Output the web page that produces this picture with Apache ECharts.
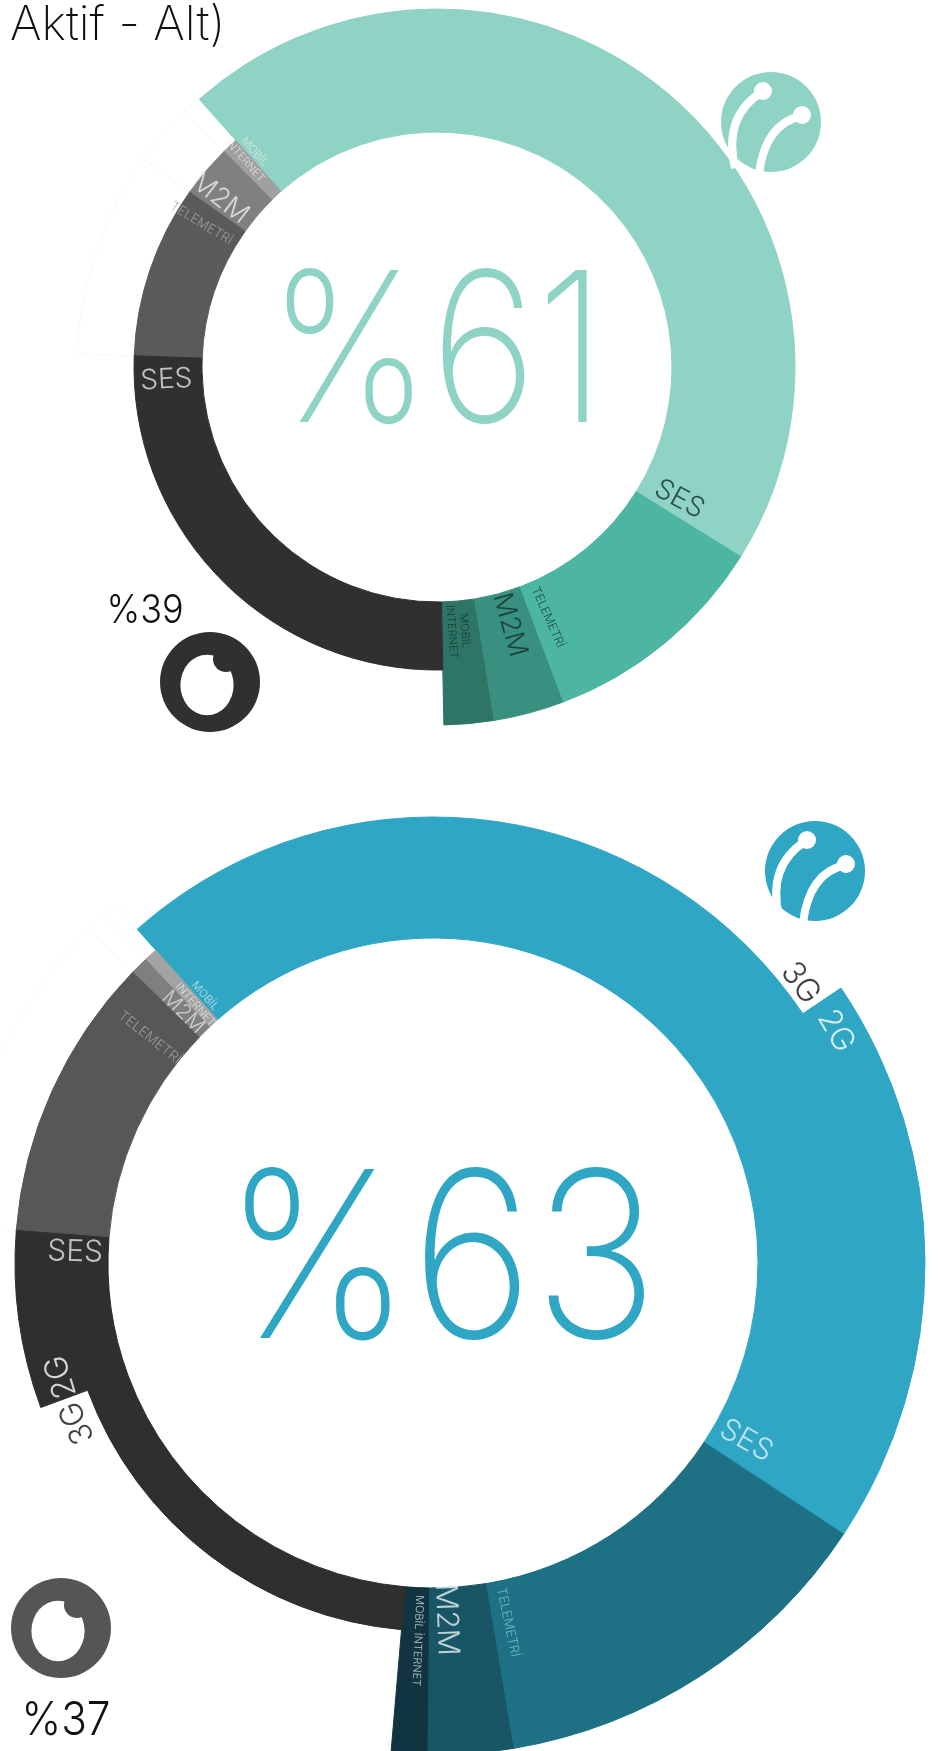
<!DOCTYPE html>
<html lang="tr">
<head>
<meta charset="UTF-8">
<title>Aktif - Alt</title>
<script src="https://cdn.jsdelivr.net/npm/echarts@6/dist/echarts.min.js"></script>
<style>
    html, body { margin: 0; padding: 0; background: #fff; }
    #chart { width: 944px; height: 1751px; }
</style>
</head>
<body>
<div id="chart"></div>

<script>
    // üst halka: pay (%), saat 6'dan saat yönünün tersine
    const topNames  = ['MOBİL İNTERNET', 'M2M', 'TELEMETRİ', 'SES', 'MOBİL İNTERNET', 'M2M', 'TELEMETRİ', 'SES'];
    const topOwners = ['Turkcell', 'Turkcell', 'Turkcell', 'Turkcell', 'Vodafone', 'Vodafone', 'Vodafone', 'Vodafone'];
    const topValues = [2.25, 3.2, 10.4, 45.4, 0.85, 2.8, 9.2, 25.9];
    const topTotals = ['%61', '%39'];

    // alt halka: SES 2G / 3G olarak ayrık
    const bottomNames  = ['MOBİL İNTERNET', 'M2M', 'TELEMETRİ', 'SES 2G', 'SES 3G', 'MOBİL İNTERNET', 'M2M', 'TELEMETRİ', 'SES 2G', 'SES 3G'];
    const bottomOwners = ['Turkcell', 'Turkcell', 'Turkcell', 'Turkcell', 'Turkcell', 'Vodafone', 'Vodafone', 'Vodafone', 'Vodafone', 'Vodafone'];
    const bottomValues = [1.2, 2.8, 13.1, 18.7, 27.1, 0.53, 0.69, 11.0, 6.86, 18.02];
    const bottomTotals = ['%63', '%37'];

    const FONT = 'Inter';

    const TOP = { center: [437, 367], start: 271.1, inner: 235 };
    const BOTTOM = { center: [433, 1263], start: 265.1, inner: 325 };

    // halkalar: her biri ayrı dış yarıçap
    const topRings = [
        { outer: 360, colors: { 4: '#fff', 5: '#fff', 6: '#fff' }, border: '#f4f4f4', borderWidth: 0.6, inner: 303, z: 1 },
        { outer: 358, colors: { 0: '#2e7565', 1: '#3a9080', 2: '#4db6a2', 3: '#8fd3c5' } },
        { outer: 303, colors: { 4: '#a0a0a0', 5: '#808080', 6: '#5a5a5a', 7: '#303030' } }
    ];
    const bottomRings = [
        { outer: 480, colors: { 5: '#fff', 6: '#fff', 7: '#fff' }, border: '#f5f5f5', borderWidth: 0.6, inner: 418, z: 1 },
        { outer: 492, colors: { 0: '#103540', 1: '#185565', 2: '#1e7085', 3: '#2ea6c4' } },
        { outer: 446, colors: { 4: '#2ea6c4' } },
        { outer: 418, colors: { 5: '#a3a3a3', 6: '#7f7f7f', 7: '#575757', 8: '#2f2f2f' } },
        { outer: 368, colors: { 9: '#2f2f2f' } }
    ];

    // etiketler: dilim, dilim içindeki konum (0-1), yarıçap
    const TDARK = '#12302a';
    const topLabels = [
        { slice: 0, t: 0.43, r: 265, size: 11, color: TDARK, mode: 'out', text: 'MOBİL\nINTERNET' },
        { slice: 1, t: 0.57, r: 268, size: 27, color: TDARK, mode: 'out' },
        { slice: 2, t: 0.085, r: 274, size: 12, color: TDARK, mode: 'out' },
        { slice: 3, t: 0.02, r: 276, size: 28, color: TDARK, mode: 'out' },
        { slice: 4, t: 0.0, r: 282, size: 11, color: '#e8e8e8', mode: 'in', text: 'MOBİL\nINTERNET' },
        { slice: 5, t: 0.74, r: 275, size: 27, color: '#eeeeee', mode: 'in' },
        { slice: 6, t: 0.117, r: 276, size: 13, color: '#a9a9a9', mode: 'in' },
        { slice: 7, t: 0.052, r: 271, size: 28, color: '#e6e6e6', mode: 'in' }
    ];
    const bottomLabels = [
        { slice: 0, t: 0.6, r: 378, size: 11, color: '#dfe9ec', mode: 'out', text: 'MOBİL İNTERNET' },
        { slice: 1, t: 0.27, r: 357, size: 30, color: '#e8f1f3', mode: 'out' },
        { slice: 2, t: 0.049, r: 367, size: 13, color: '#7fc3d6', mode: 'out' },
        { slice: 3, t: 0.056, r: 360, size: 30, color: '#def1f6', mode: 'out', text: 'SES' },
        { slice: 3, t: 0.94, r: 465, size: 32, color: '#ffffff', mode: 'tan', text: '2G' },
        { slice: 4, t: 0.034, r: 462, size: 32, color: '#111111', mode: 'tan', text: '3G' },
        { slice: 5, t: 0.0, r: 351, size: 11, color: '#eeeeee', mode: 'in', text: 'MOBİL\nINTERNET' },
        { slice: 6, t: 0.58, r: 354, size: 21, color: '#e0e0e0', mode: 'in' },
        { slice: 7, t: 0.14, r: 362, size: 14, color: '#a6a6a6', mode: 'in' },
        { slice: 8, t: 0.11, r: 358, size: 30, color: '#e6e6e6', mode: 'in', text: 'SES' },
        { slice: 8, t: 0.87, r: 389, size: 32, color: '#ffffff', mode: 'tan', text: '2G' },
        { slice: 9, t: 0.061, r: 390, size: 32, color: '#111111', mode: 'tan', text: '3G' }
    ];

    function sliceStarts(values) {
        let acc = 0;
        return values.map(v => { const s = acc; acc += v; return s; });
    }

    function ringSeries(names, values, layout, ring) {
        return {
            type: 'pie',
            silent: true,
            animation: false,
            z: ring.z || 2,
            center: layout.center,
            radius: [ring.inner || layout.inner, ring.outer],
            startAngle: layout.start,
            clockwise: false,
            avoidLabelOverlap: false,
            label: { show: false },
            labelLine: { show: false },
            emphasis: { disabled: true },
            data: values.map((v, i) => {
                const c = ring.colors[i];
                // kendi renginde ince kenar: dilimler arası açık çizgiyi kapatır
                return {
                    name: names[i] + ' ' + i,
                    value: v,
                    itemStyle: c
                        ? { color: c, borderColor: ring.border || c, borderWidth: ring.borderWidth || 1 }
                        : { color: 'rgba(0,0,0,0)', borderWidth: 0 }
                };
            })
        };
    }

    function labelSeries(names, values, layout, polarIndex, labels) {
        const total = values.reduce((a, b) => a + b, 0);
        const starts = sliceStarts(values);
        return {
            type: 'scatter',
            coordinateSystem: 'polar',
            polarIndex: polarIndex,
            silent: true,
            animation: false,
            z: 10,
            symbolSize: 1,
            itemStyle: { color: 'rgba(0,0,0,0)' },
            label: {
                show: true, position: 'inside', align: 'center', verticalAlign: 'middle',
                fontFamily: FONT, fontWeight: 300
            },
            data: labels.map(l => {
                const a = starts[l.slice] + l.t * values[l.slice];
                let theta = (((layout.start + 360 * a / total) % 360) + 360) % 360;
                let rot;
                if (l.mode === 'in') rot = theta - 180;
                else if (l.mode === 'tan') rot = theta - 90;
                else rot = theta > 180 ? theta - 360 : theta;
                return {
                    value: [l.r, a],
                    label: {
                        formatter: l.text || names[l.slice],
                        rotate: rot,
                        color: l.color,
                        fontSize: l.size,
                        lineHeight: Math.round(l.size * 1.15)
                    }
                };
            })
        };
    }

    function polarFor(layout, values) {
        const total = values.reduce((a, b) => a + b, 0);
        return {
            polar: { center: layout.center, radius: 600 },
            angle: { type: 'value', min: 0, max: total, startAngle: layout.start, clockwise: false, show: false },
            radius: { type: 'value', min: 0, max: 600, show: false }
        };
    }

    function bigText(text, x, y, size, color, weight, sx) {
        return {
            type: 'text', x: x, y: y, scaleX: sx || 1, silent: true, z: 20,
            style: {
                text: text, fill: color,
                font: (weight || 200) + ' ' + size + 'px ' + FONT,
                align: 'center', verticalAlign: 'middle',
                textAlign: 'center', textVerticalAlign: 'middle'
            }
        };
    }

    // logolar (yaklaşık çizim)
    function turkcellLogo(x, y, color) {
        const w = { stroke: '#fff', lineWidth: 8, fill: null };
        return {
            type: 'group', x: x, y: y, silent: true,
            children: [
                { type: 'circle', z: 20, shape: { cx: 0, cy: 0, r: 50 }, style: { fill: color } },
                { type: 'bezierCurve', z: 21, shape: { x1: -36, y1: 46, cpx1: -48, cpy1: -6, x2: -9, y2: -30 }, style: w },
                { type: 'bezierCurve', z: 21, shape: { x1: -12, y1: 52, cpx1: -6, cpy1: 2, x2: 30, y2: -6 }, style: w },
                { type: 'circle', z: 21, shape: { cx: -8, cy: -31, r: 9 }, style: { fill: '#fff' } },
                { type: 'circle', z: 21, shape: { cx: 31, cy: -7, r: 9 }, style: { fill: '#fff' } }
            ]
        };
    }

    function vodafoneLogo(x, y, color) {
        return {
            type: 'group', x: x, y: y, silent: true,
            children: [
                { type: 'circle', z: 20, shape: { cx: 0, cy: 0, r: 50 }, style: { fill: color } },
                { type: 'circle', z: 21, x: -3, y: 3, scaleX: 0.95, scaleY: 1.08, shape: { cx: 0, cy: 0, r: 28 }, style: { fill: '#fff' } },
                { type: 'circle', z: 22, shape: { cx: 16, cy: -23, r: 13 }, style: { fill: color } }
            ]
        };
    }

    const topPolar = polarFor(TOP, topValues);
    const bottomPolar = polarFor(BOTTOM, bottomValues);

    const option = {
        backgroundColor: '#fff',
        animation: false,
        polar: [topPolar.polar, bottomPolar.polar],
        angleAxis: [Object.assign({ polarIndex: 0 }, topPolar.angle), Object.assign({ polarIndex: 1 }, bottomPolar.angle)],
        radiusAxis: [Object.assign({ polarIndex: 0 }, topPolar.radius), Object.assign({ polarIndex: 1 }, bottomPolar.radius)],
        series: [
            ...topRings.map(r => ringSeries(topNames, topValues, TOP, r)),
            ...bottomRings.map(r => ringSeries(bottomNames, bottomValues, BOTTOM, r)),
            labelSeries(topNames, topValues, TOP, 0, topLabels),
            labelSeries(bottomNames, bottomValues, BOTTOM, 1, bottomLabels)
        ],
        graphic: [
            {
                type: 'text', x: 10, y: 26, silent: true, z: 20,
                style: { text: 'Aktif - Alt)', fill: '#111', font: '200 48px ' + FONT, align: 'left', verticalAlign: 'middle', textAlign: 'left', textVerticalAlign: 'middle' }
            },
            bigText(topTotals[0], 437, 359, 209, '#8fd3c5', 200, 0.87),
            bigText(topTotals[1], 145, 611, 40, '#111', 300, 0.9),
            bigText(bottomTotals[0], 441, 1268, 232, '#2ea6c4', 200, 0.905),
            bigText(bottomTotals[1], 66, 1721, 47, '#111', 300, 0.9),
            turkcellLogo(771, 122, '#8fd3c5'),
            vodafoneLogo(210, 682, '#303030'),
            turkcellLogo(815, 871, '#2ea6c4'),
            vodafoneLogo(61, 1628, '#555555')
        ]
    };

    const chart = echarts.init(document.getElementById('chart'));
    chart.setOption(option);
</script>
</body>
</html>
